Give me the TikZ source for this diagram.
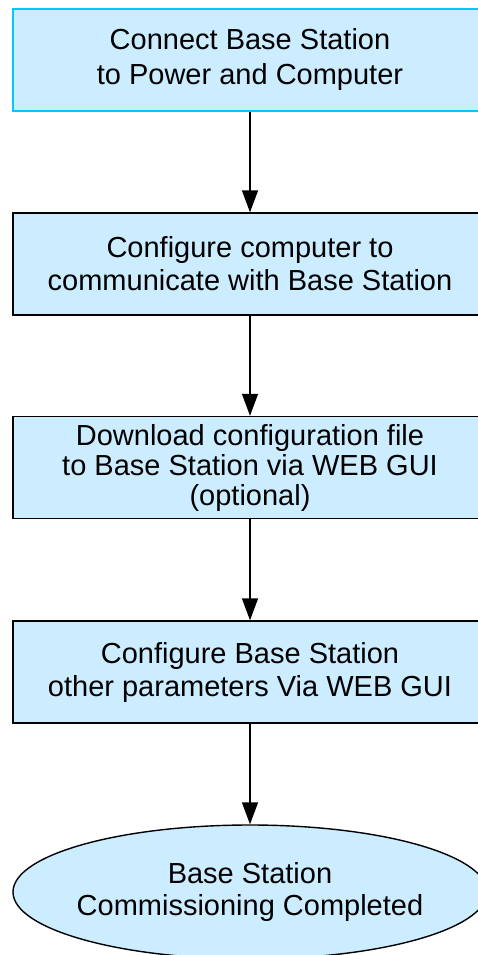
\documentclass[tikz,border=0pt]{standalone}
\usepackage{fontspec}
\setmainfont{Liberation Sans}
\usetikzlibrary{arrows.meta,shapes.geometric}
\definecolor{boxfill}{RGB}{204,236,255}
\definecolor{cyanedge}{RGB}{0,200,255}
\tikzset{
  stepbox/.style={rectangle, draw=black, line width=1.4pt, fill=boxfill,
    minimum width=474pt, minimum height=102pt, inner sep=0pt, align=center},
  endnode/.style={ellipse, draw=black, line width=1.4pt, fill=boxfill,
    minimum width=474pt, minimum height=134pt, inner xsep=-30pt, inner ysep=0pt, align=center},
  flow/.style={line width=1.4pt, -{Triangle[length=22pt,width=16pt]}}
}
\begin{document}
\begin{tikzpicture}[x=1pt,y=-1pt]
\useasboundingbox (0,0) rectangle (477,955);
\node[stepbox, draw=cyanedge, line width=2pt, font={\fontsize{29}{35}\selectfont}] (b1) at (250,60)
  {Connect Base Station\\to Power and Computer};
\node[stepbox, font={\fontsize{29}{33}\selectfont}] (b2) at (250,264)
  {Configure computer to\\communicate with Base Station};
\node[stepbox, font={\fontsize{29}{30}\selectfont}] (b3) at (250,467.5)
  {Download configuration file\\to Base Station via WEB GUI\\(optional)};
\node[stepbox, font={\fontsize{29}{33}\selectfont}] (b4) at (250,672)
  {Configure Base Station\\other parameters Via WEB GUI};
\node[endnode, font={\fontsize{29}{32}\selectfont}] (e) at (250,892)
  {Base Station\\Commissioning Completed};
\draw[flow] (b1) -- (b2);
\draw[flow] (b2) -- (b3);
\draw[flow] (b3) -- (b4);
\draw[flow] (b4) -- (e);
\end{tikzpicture}
\end{document}
